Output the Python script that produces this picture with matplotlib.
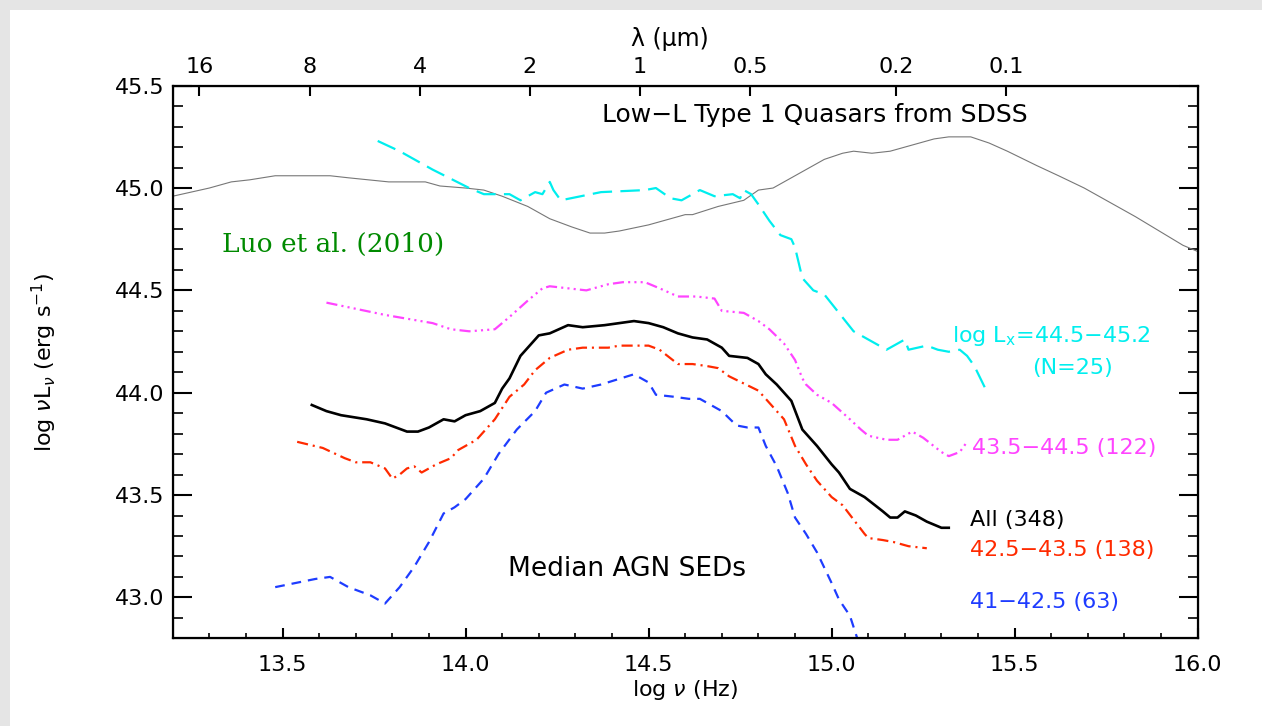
#!/usr/bin/env python3
import numpy as np
import matplotlib
matplotlib.use("Agg")
import matplotlib.pyplot as plt

plt.rcParams['lines.scale_dashes'] = False
plt.rcParams['font.family'] = ['DejaVu Sans']
plt.rcParams['mathtext.fontset'] = 'dejavusans'

# ------------------------------------------------------------------------
# values (log nu in Hz, log nuL_nu in erg/s)
sdss_x = [13.20, 13.30, 13.36, 13.41, 13.48, 13.63, 13.68, 13.79, 13.89, 13.93,
          14.00, 14.05, 14.10, 14.17, 14.23, 14.29, 14.34, 14.38, 14.42, 14.50,
          14.60, 14.62, 14.69, 14.76, 14.80, 14.84, 14.89, 14.98, 15.03, 15.06,
          15.11, 15.16, 15.28, 15.32, 15.38, 15.43, 15.48, 15.56, 15.62, 15.69,
          15.79, 15.83, 15.96, 16.00]
sdss_y = [44.96, 45.00, 45.03, 45.04, 45.06, 45.06, 45.05, 45.03, 45.03, 45.01,
          45.00, 44.99, 44.96, 44.91, 44.85, 44.81, 44.78, 44.78, 44.79, 44.82,
          44.87, 44.87, 44.91, 44.94, 44.99, 45.00, 45.05, 45.14, 45.17, 45.18,
          45.17, 45.18, 45.24, 45.25, 45.25, 45.22, 45.18, 45.11, 45.06, 45.00,
          44.90, 44.86, 44.72, 44.69]

hi_x = [13.76, 13.82, 13.91, 14.01, 14.05, 14.12, 14.15, 14.19, 14.21, 14.23,
        14.24, 14.26, 14.37, 14.49, 14.52, 14.56, 14.59, 14.64, 14.68, 14.73,
        14.75, 14.76, 14.78, 14.80, 14.83, 14.86, 14.89, 14.90, 14.92, 14.95,
        14.98, 15.02, 15.06, 15.10, 15.15, 15.20, 15.21, 15.26, 15.29, 15.32,
        15.35, 15.37, 15.39, 15.42]
hi_y = [45.23, 45.18, 45.09, 45.00, 44.97, 44.97, 44.94, 44.98, 44.97, 45.03,
        44.99, 44.94, 44.98, 44.99, 45.00, 44.95, 44.94, 44.99, 44.96, 44.97,
        44.95, 44.99, 44.97, 44.92, 44.84, 44.77, 44.75, 44.71, 44.56, 44.50,
        44.48, 44.39, 44.30, 44.26, 44.21, 44.26, 44.21, 44.23, 44.21, 44.20,
        44.21, 44.18, 44.13, 44.02]

mid_x = [13.62, 13.78, 13.91, 13.96, 14.01, 14.08, 14.12, 14.17, 14.21, 14.23,
         14.28, 14.33, 14.39, 14.43, 14.49, 14.53, 14.58, 14.63, 14.68, 14.70,
         14.76, 14.80, 14.83, 14.87, 14.90, 14.92, 14.93, 14.96, 15.00, 15.05,
         15.08, 15.10, 15.15, 15.18, 15.22, 15.25, 15.30, 15.32, 15.35, 15.37]
mid_y = [44.44, 44.38, 44.34, 44.31, 44.30, 44.31, 44.37, 44.45, 44.51, 44.52,
         44.51, 44.50, 44.53, 44.54, 44.54, 44.51, 44.47, 44.47, 44.46, 44.40,
         44.39, 44.35, 44.31, 44.24, 44.16, 44.07, 44.04, 43.99, 43.95, 43.87,
         43.82, 43.79, 43.77, 43.77, 43.81, 43.78, 43.71, 43.69, 43.71, 43.76]

all_x = [13.58, 13.62, 13.66, 13.73, 13.78, 13.81, 13.84, 13.87, 13.90, 13.94,
         13.97, 13.98, 14.00, 14.04, 14.08, 14.10, 14.12, 14.15, 14.20, 14.23,
         14.28, 14.32, 14.38, 14.46, 14.50, 14.54, 14.58, 14.62, 14.66, 14.70,
         14.72, 14.77, 14.80, 14.82, 14.85, 14.89, 14.92, 14.96, 15.00, 15.02,
         15.05, 15.09, 15.14, 15.16, 15.18, 15.20, 15.23, 15.26, 15.30, 15.32]
all_y = [43.94, 43.91, 43.89, 43.87, 43.85, 43.83, 43.81, 43.81, 43.83, 43.87,
         43.86, 43.87, 43.89, 43.91, 43.95, 44.02, 44.07, 44.18, 44.28, 44.29,
         44.33, 44.32, 44.33, 44.35, 44.34, 44.32, 44.29, 44.27, 44.26, 44.22,
         44.18, 44.17, 44.14, 44.09, 44.04, 43.96, 43.82, 43.74, 43.65, 43.61,
         43.53, 43.49, 43.42, 43.39, 43.39, 43.42, 43.40, 43.37, 43.34, 43.34]

lo_x = [13.54, 13.61, 13.67, 13.70, 13.74, 13.78, 13.80, 13.82, 13.84, 13.86,
        13.88, 13.92, 13.96, 13.98, 14.03, 14.08, 14.12, 14.16, 14.19, 14.23,
        14.28, 14.32, 14.39, 14.42, 14.50, 14.53, 14.58, 14.62, 14.66, 14.69,
        14.72, 14.80, 14.83, 14.87, 14.90, 14.93, 14.96, 15.00, 15.03, 15.06,
        15.09, 15.10, 15.14, 15.17, 15.21, 15.26]
lo_y = [43.76, 43.73, 43.68, 43.66, 43.66, 43.63, 43.58, 43.60, 43.63, 43.64,
        43.61, 43.65, 43.68, 43.72, 43.77, 43.87, 43.98, 44.04, 44.11, 44.17,
        44.21, 44.22, 44.22, 44.23, 44.23, 44.21, 44.14, 44.14, 44.13, 44.12,
        44.08, 44.01, 43.95, 43.87, 43.74, 43.65, 43.57, 43.49, 43.45, 43.38,
        43.31, 43.29, 43.28, 43.27, 43.25, 43.24]

vlo_x = [13.48, 13.59, 13.63, 13.68, 13.74, 13.78, 13.82, 13.86, 13.90, 13.94,
         13.97, 14.00, 14.05, 14.09, 14.14, 14.19, 14.22, 14.27, 14.32, 14.37,
         14.46, 14.50, 14.52, 14.57, 14.61, 14.64, 14.66, 14.70, 14.74, 14.77,
         14.80, 14.82, 14.85, 14.88, 14.90, 14.93, 14.96, 15.00, 15.02, 15.05,
         15.07]
vlo_y = [43.05, 43.09, 43.10, 43.05, 43.01, 42.97, 43.05, 43.15, 43.27, 43.41,
         43.44, 43.48, 43.58, 43.70, 43.82, 43.91, 44.00, 44.04, 44.02, 44.04,
         44.09, 44.05, 43.99, 43.98, 43.97, 43.97, 43.95, 43.91, 43.84, 43.83,
         43.83, 43.74, 43.64, 43.51, 43.39, 43.31, 43.22, 43.07, 42.99, 42.91,
         42.80]

lam_ticks = [16, 8, 4, 2, 1, 0.5, 0.2, 0.1]
lam_labels = ['16', '8', '4', '2', '1', '0.5', '0.2', '0.1']

# ------------------------------------------------------------------------
fig = plt.figure(figsize=(12.62, 7.26), dpi=100)
fig.patch.set_facecolor('#e5e5e5')
# white panel, gray strip only along the top and left edges
fig.patches.append(plt.Rectangle((10 / 1262, 0), 1, 1 - 10 / 726,
                                 transform=fig.transFigure, facecolor='white',
                                 edgecolor='none', zorder=-10))

ax = fig.add_axes([172.7 / 1262, 1 - 638.3 / 726, 1025 / 1262, 552.6 / 726])
ax.set_xlim(13.2, 16.0)
ax.set_ylim(42.8, 45.5)
ax.patch.set_alpha(0)

ax.plot(sdss_x, sdss_y, color='#777777', lw=0.8)
ax.plot(hi_x, hi_y, color='#00eeee', lw=1.6, ls=(0, (14, 6)))
ax.plot(mid_x, mid_y, color='#ff44ff', lw=1.6,
        ls=(0, (8, 3, 1.5, 3, 1.5, 3, 1.5, 3)))
ax.plot(all_x, all_y, color='black', lw=1.9)
ax.plot(lo_x, lo_y, color='#ff2a00', lw=1.6, ls=(0, (8, 3.5, 1.5, 3.5)))
ax.plot(vlo_x, vlo_y, color='#1e3cff', lw=1.6, ls=(0, (7, 5)))

# labels inside the plot
ax.text(14.955, 45.355, 'Low\u2212L Type 1 Quasars from SDSS', fontsize=18,
        va='center', ha='center')
ax.text(13.334, 44.727, 'Luo et al. (2010)', fontsize=19, color='#008a00',
        family='DejaVu Serif', va='center', ha='left')
ax.text(14.441, 43.14, 'Median AGN SEDs', fontsize=19, va='center',
        ha='center')
ax.text(15.329, 44.279, 'log L$_\\mathrm{x}$=44.5\u221245.2', fontsize=16,
        color='#00eeee', va='center', ha='left')
ax.text(15.657, 44.123, '(N=25)', fontsize=16, color='#00eeee',
        va='center', ha='center')
ax.text(15.383, 43.729, '43.5\u221244.5 (122)', fontsize=16, color='#ff44ff',
        va='center', ha='left')
ax.text(15.378, 43.378, 'All (348)', fontsize=16, color='black',
        va='center', ha='left')
ax.text(15.378, 43.232, '42.5\u221243.5 (138)', fontsize=16, color='#ff2a00',
        va='center', ha='left')
ax.text(15.378, 42.979, '41\u221242.5 (63)', fontsize=16, color='#1e3cff',
        va='center', ha='left')

# axes styling
for s in ax.spines.values():
    s.set_linewidth(1.6)
ax.set_xticks(np.arange(13.5, 16.01, 0.5))
ax.set_xticks(np.arange(13.2, 16.01, 0.1), minor=True)
ax.set_yticks(np.arange(43.0, 45.51, 0.5))
ax.set_yticks(np.arange(42.8, 45.51, 0.1), minor=True)
ax.xaxis.set_major_formatter(matplotlib.ticker.FormatStrFormatter('%.1f'))
ax.yaxis.set_major_formatter(matplotlib.ticker.FormatStrFormatter('%.1f'))
ax.tick_params(axis='x', which='major', direction='in', length=7, width=1.5,
               labelsize=16, pad=12, top=False)
ax.tick_params(axis='x', which='minor', direction='in', length=3.3, width=1.2,
               top=False)
ax.tick_params(axis='y', which='major', direction='in', length=14, width=1.5,
               labelsize=16, right=True, pad=6)
ax.tick_params(axis='y', which='minor', direction='in', length=7, width=1.2,
               right=True)
ax.set_xlabel('log $\\nu$ (Hz)', fontsize=16, labelpad=2)
ax.set_ylabel('log $\\nu$L$_\\nu$ (erg s$^{-1}$)', fontsize=16, labelpad=40)

# top axis: wavelength in micron
ax2 = ax.twiny()
ax2.set_xlim(ax.get_xlim())
ax2.set_xticks([np.log10(2.998e14 / l) for l in lam_ticks])
ax2.set_xticklabels(lam_labels)
ax2.tick_params(axis='x', which='major', direction='in', length=7, width=1.5,
                labelsize=16, pad=6)
ax2.set_xlabel('\u03bb (\u03bcm)', fontsize=17)
ax2.xaxis.set_label_coords(0.485, 1.072)

fig.savefig('out.png', dpi=100)
